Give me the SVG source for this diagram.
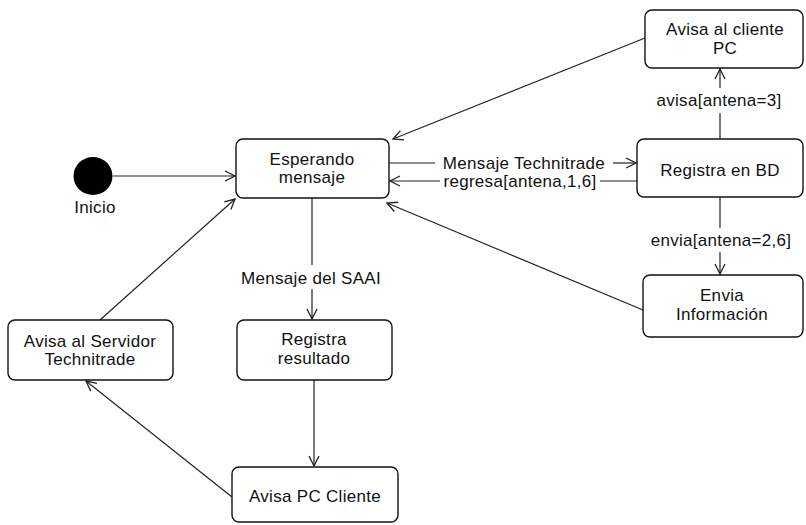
<svg xmlns="http://www.w3.org/2000/svg" width="806" height="525" viewBox="0 0 806 525">
<defs>
<style>
.node rect{fill:#fff;stroke:#111;stroke-width:1.4}
text{font-family:"Liberation Sans",Arial,sans-serif;font-size:17px;letter-spacing:0.3px;fill:#111;text-anchor:middle}
.edge{fill:none;stroke:#222;stroke-width:1.2}
</style>
<marker id="ah" viewBox="0 0 12 12" refX="11" refY="6" markerWidth="12" markerHeight="12" markerUnits="userSpaceOnUse" orient="auto">
<path d="M1,1 L11,6 L1,11" fill="none" stroke="#222" stroke-width="1.3"/>
</marker>
</defs>
<rect width="806" height="525" fill="#fff"/>
<g id="connectors">
<line class="edge" x1="113" y1="176" x2="235" y2="176" marker-end="url(#ah)"/>
<line class="edge" x1="389" y1="163" x2="435" y2="163"/>
<line class="edge" x1="613" y1="163" x2="636" y2="163" marker-end="url(#ah)"/>
<line class="edge" x1="637" y1="181" x2="600" y2="181"/>
<line class="edge" x1="440" y1="181" x2="390" y2="181" marker-end="url(#ah)"/>
<line class="edge" x1="720" y1="139" x2="720" y2="113"/>
<line class="edge" x1="720" y1="88" x2="720" y2="69" marker-end="url(#ah)"/>
<line class="edge" x1="645" y1="38" x2="393" y2="139" marker-end="url(#ah)"/>
<line class="edge" x1="720" y1="197" x2="720" y2="228"/>
<line class="edge" x1="720" y1="252" x2="720" y2="274" marker-end="url(#ah)"/>
<line class="edge" x1="643" y1="310" x2="387" y2="203" marker-end="url(#ah)"/>
<line class="edge" x1="312" y1="198" x2="312" y2="265"/>
<line class="edge" x1="312" y1="289" x2="312" y2="319" marker-end="url(#ah)"/>
<line class="edge" x1="314" y1="380" x2="314" y2="466" marker-end="url(#ah)"/>
<line class="edge" x1="232" y1="497" x2="86" y2="381" marker-end="url(#ah)"/>
<line class="edge" x1="100" y1="320" x2="235" y2="199" marker-end="url(#ah)"/>
<text x="524" y="169">Mensaje Technitrade</text>
<text x="520" y="187">regresa[antena,1,6]</text>
<text x="719" y="106">avisa[antena=3]</text>
<text x="721" y="246">envia[antena=2,6]</text>
<text x="311" y="284">Mensaje del SAAI</text>
</g>
<g id="inicio">
<ellipse cx="93" cy="176" rx="19.5" ry="19" fill="#000"/>
<text x="95" y="213">Inicio</text>
</g>
<g id="esperando" class="node">
<rect x="236" y="139" width="153" height="59" rx="7"/>
<text x="312" y="165">Esperando</text>
<text x="312" y="183">mensaje</text>
</g>
<g id="avisa-cliente" class="node">
<rect x="645" y="10" width="158" height="58" rx="7"/>
<text x="725" y="35">Avisa al cliente</text>
<text x="725" y="54">PC</text>
</g>
<g id="registra-bd" class="node">
<rect x="637" y="139" width="166" height="58" rx="7"/>
<text x="720" y="176">Registra en BD</text>
</g>
<g id="envia" class="node">
<rect x="643" y="275" width="160" height="62" rx="7"/>
<text x="722" y="301">Envia</text>
<text x="722" y="320">Información</text>
</g>
<g id="registra-resultado" class="node">
<rect x="237" y="320" width="155" height="60" rx="7"/>
<text x="314" y="345">Registra</text>
<text x="314" y="364">resultado</text>
</g>
<g id="avisa-servidor" class="node">
<rect x="8" y="320" width="165" height="60" rx="7"/>
<text x="90" y="347">Avisa al Servidor</text>
<text x="90" y="365">Technitrade</text>
</g>
<g id="avisa-pc" class="node">
<rect x="232" y="467" width="166" height="55" rx="7"/>
<text x="315" y="502">Avisa PC Cliente</text>
</g>
</svg>
